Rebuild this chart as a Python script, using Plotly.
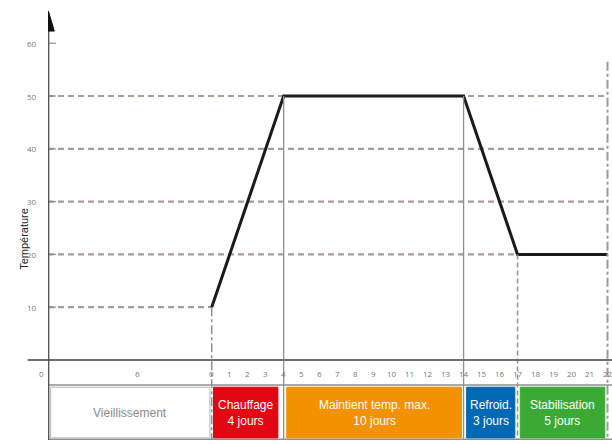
import plotly.graph_objects as go

# ---- data ----
profile_days = [0, 4, 14, 17, 22]
profile_temp = [10, 50, 50, 20, 20]

y_ticks = [10, 20, 30, 40, 50, 60]
grid_levels = [10, 20, 30, 40, 50]
grid_ends = [0, 17, 22, 22, 22]

day_ticks = list(range(0, 23))
day_labels = [str(d) for d in day_ticks]
aging_labels = ["0", "6"]
aging_pos_paper = [-0.0195, 0.151]

phase_names = ["Vieillissement", "Chauffage<br>4 jours", "Maintient temp. max.<br>10 jours",
               "Refroid.<br>3 jours", "Stabilisation<br>5 jours"]
phase_start = [-8.95, 0.1, 4.17, 14.17, 17.15]
phase_end = [-0.1, 3.68, 13.88, 16.85, 21.85]
phase_fill = ["#ffffff", "#e30613", "#f39200", "#0069b4", "#3aaa35"]
phase_text = ["#8a8a8a", "#ffffff", "#ffffff", "#ffffff", "#ffffff"]

X0, X1 = -9.1, 22.25
Y0, Y1 = -15.15, 66.67
grid_col = "#a99a92"
line_col = "#8f8f8f"
tick_col = "#777777"

fig = go.Figure()

shapes = []
# horizontal dashed grid lines
for lv, xe in zip(grid_levels, grid_ends):
    shapes.append(dict(type="line", x0=X0, x1=xe, y0=lv, y1=lv,
                       line=dict(color=grid_col, width=2.2, dash="6px,4px"), layer="below"))
# short ticks on y-axis
for t in y_ticks:
    shapes.append(dict(type="line", x0=-9.35, x1=-8.65, y0=t, y1=t,
                       line=dict(color=line_col, width=1.2)))
# vertical lines
shapes.append(dict(type="line", x0=0, x1=0, y0=10, y1=Y0,
                   line=dict(color=line_col, width=1.5, dash="dashdot")))
shapes.append(dict(type="line", x0=4, x1=4, y0=50, y1=Y0,
                   line=dict(color=line_col, width=1.3)))
shapes.append(dict(type="line", x0=14, x1=14, y0=50, y1=Y0,
                   line=dict(color=line_col, width=1.3)))
shapes.append(dict(type="line", x0=17, x1=17, y0=20, y1=Y0,
                   line=dict(color=line_col, width=1.5, dash="5px,3px")))
shapes.append(dict(type="line", x0=22, x1=22, y0=56.5, y1=Y0,
                   line=dict(color="#9a9a9a", width=2, dash="dashdot")))
# x-axis line (extends left of y axis)
shapes.append(dict(type="line", xref="paper", x0=-0.036, x1=1, yref="y", y0=0, y1=0,
                   line=dict(color="#6f6f6f", width=2)))
# tick band bottom line
shapes.append(dict(type="line", x0=X0, x1=X1, y0=-4.75, y1=-4.75,
                   line=dict(color=line_col, width=1.5)))
shapes.append(dict(type="line", x0=X0, x1=X1, y0=-15.0, y1=-15.0,
                   line=dict(color=line_col, width=1.5)))
# phase boxes
for s, e, c in zip(phase_start, phase_end, phase_fill):
    shapes.append(dict(type="rect", x0=s, x1=e, y0=-5.15, y1=-14.75,
                       fillcolor=c, line=dict(color="#b5b5b5" if c == "#ffffff" else c, width=1)))
# y axis with arrow
shapes.append(dict(type="line", x0=X0 + 0.02, x1=X0 + 0.02, y0=Y0, y1=63,
                   line=dict(color="#555555", width=2)))
shapes.append(dict(type="path",
                   path=f"M {X0-0.31} 62.3 L {X0+0.35} 62.3 L {X0+0.02} 66.1 Z",
                   fillcolor="#111111", line=dict(color="#111111", width=1)))

# temperature profile
fig.add_trace(go.Scatter(x=profile_days, y=profile_temp, mode="lines",
                         line=dict(color="#1a1a1a", width=3), hoverinfo="skip",
                         showlegend=False))

ann = []
for t in y_ticks:
    ann.append(dict(xref="paper", x=0, y=t, yref="y", text=str(t), showarrow=False,
                    xanchor="right", xshift=-9, font=dict(size=8, color=tick_col)))
for d, lab in zip(day_ticks, day_labels):
    ann.append(dict(x=d, y=-2.5, text=lab, showarrow=False,
                    font=dict(size=8, color=tick_col)))
for p, lab in zip(aging_pos_paper, aging_labels):
    ann.append(dict(xref="paper", x=p, yref="y", y=-2.5, text=lab, showarrow=False,
                    font=dict(size=8, color=tick_col)))
for s, e, n, tc in zip(phase_start, phase_end, phase_names, phase_text):
    ann.append(dict(x=(s + e) / 2, y=-9.95, text=n, showarrow=False,
                    font=dict(size=12, color=tc, family="Liberation Sans Narrow, Liberation Sans, Arial")))
ann.append(dict(xref="paper", x=-0.058, yref="y", y=23, text="Température", textangle=-90,
                showarrow=False, font=dict(size=11, color="#222222",
                                          family="Liberation Sans Narrow, Liberation Sans, Arial")))

fig.update_layout(
    width=612, height=444,
    margin=dict(l=48, r=0, t=8, b=4),
    plot_bgcolor="white", paper_bgcolor="white",
    xaxis=dict(range=[X0, X1], visible=False, fixedrange=True),
    yaxis=dict(range=[Y0, Y1], visible=False, fixedrange=True),
    shapes=shapes, annotations=ann,
    showlegend=False,
)

# remove the default page margin so the 612x444 figure fills the window exactly
fig.write_html("out.html",
               config={"displayModeBar": False},
               post_script="document.body.style.margin='0';document.body.style.overflow='hidden';")
